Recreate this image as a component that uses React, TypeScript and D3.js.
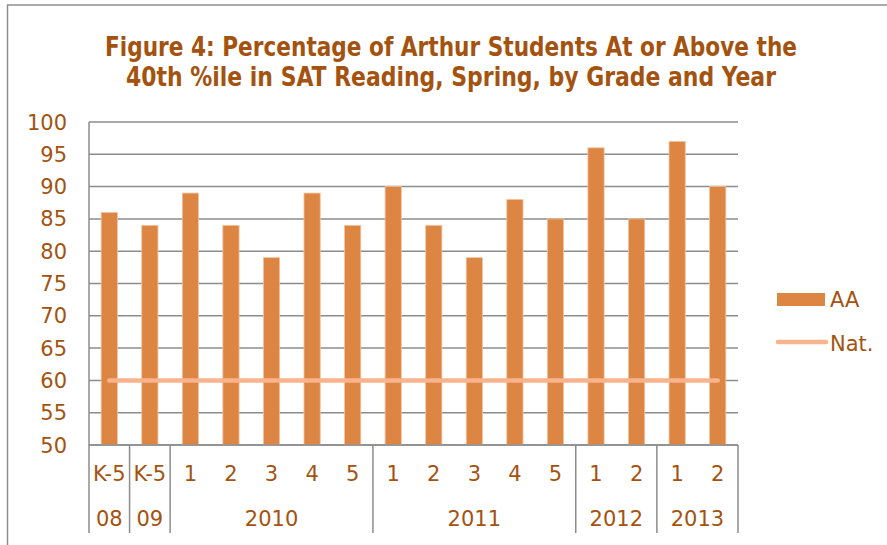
import React from "react";
import * as d3 from "d3";

// chart data
const grades = ["K-5", "K-5", "1", "2", "3", "4", "5", "1", "2", "3", "4", "5", "1", "2", "1", "2"];
const years = ["08", "09", "2010", "2010", "2010", "2010", "2010", "2011", "2011", "2011", "2011", "2011", "2012", "2012", "2013", "2013"];
const aaValues = [86, 84, 89, 84, 79, 89, 84, 90, 84, 79, 88, 85, 96, 85, 97, 90];
const natValues = [60, 60, 60, 60, 60, 60, 60, 60, 60, 60, 60, 60, 60, 60, 60, 60];
const yTicks = [50, 55, 60, 65, 70, 75, 80, 85, 90, 95, 100];

const titleLines = [
  "Figure 4: Percentage of Arthur Students At or Above the",
  "40th %ile in SAT Reading, Spring, by Grade and Year",
];

const textColor = "#A3530F";
const barColor = "#DD8542";
const natColor = "#F9B38D";
const gridColor = "#8C8C8C";
const font = "'DejaVu Sans', sans-serif";
const fs = 21;

const App = () => {
  const width = 887;
  const height = 545;
  const plot = { left: 89, right: 738, top: 122, bottom: 445 };

  const idx = d3.range(grades.length).map(String);
  const x = d3.scaleBand().domain(idx).range([plot.left, plot.right]).paddingInner(0).paddingOuter(0);
  const y = d3.scaleLinear().domain([50, 100]).range([plot.bottom, plot.top]);
  const bw = x.bandwidth() * 0.4;

  const natLine = d3
    .line<number>()
    .x((_, i) => (x(String(i)) as number) + x.bandwidth() / 2)
    .y((d) => y(d));

  // group the years into spans
  const groups: { year: string; start: number; end: number }[] = [];
  years.forEach((yr, i) => {
    const last = groups[groups.length - 1];
    if (last && last.year === yr) last.end = i;
    else groups.push({ year: yr, start: i, end: i });
  });

  return (
    <svg width={width} height={height} style={{ position: "absolute", left: 0, top: 0 }}>
      <rect x={0} y={0} width={width} height={height} fill="#fff" />
      {/* outer chart border */}
      <rect x={7.5} y={5} width={width + 10} height={height + 10} fill="none" stroke="#8f8f8f" strokeWidth={1.5} />

      {titleLines.map((t, i) => (
        <text
          key={i}
          x={451}
          y={i === 0 ? 56 : 86}
          textAnchor="middle"
          fontFamily="'Liberation Sans Narrow', 'DejaVu Sans Condensed', sans-serif"
          fontWeight="bold"
          fontSize={27}
          fill={textColor}
          textLength={i === 0 ? 692 : 650}
          lengthAdjust="spacingAndGlyphs"
        >
          {t}
        </text>
      ))}

      {/* gridlines */}
      {yTicks.map((t) => (
        <line key={t} x1={plot.left} x2={plot.right} y1={y(t)} y2={y(t)} stroke={gridColor} strokeWidth={1.5} />
      ))}
      {yTicks.map((t) => (
        <text
          key={"l" + t}
          x={67}
          y={y(t)}
          dy="0.36em"
          textAnchor="end"
          fontFamily={font}
          fontSize={fs}
          fill={textColor}
        >
          {t}
        </text>
      ))}

      {/* bars */}
      {aaValues.map((v, i) => (
        <rect
          key={i}
          x={(x(String(i)) as number) + (x.bandwidth() - bw) / 2}
          y={y(v)}
          width={bw}
          height={plot.bottom - y(v)}
          fill={barColor}
          stroke="#F2C4A0"
          strokeWidth={0.8}
        />
      ))}

      <path d={natLine(natValues) || ""} fill="none" stroke={natColor} strokeWidth={4.5} strokeLinecap="round" />

      {/* axes */}
      <line x1={plot.left} x2={plot.left} y1={plot.top} y2={533} stroke={gridColor} strokeWidth={1.5} />
      <line x1={plot.left} x2={plot.right} y1={plot.bottom} y2={plot.bottom} stroke={gridColor} strokeWidth={1.5} />
      {groups.map((g) => {
        const xe = (x(String(g.end)) as number) + x.bandwidth();
        return <line key={"s" + g.year} x1={xe} x2={xe} y1={plot.bottom} y2={533} stroke={gridColor} strokeWidth={1.5} />;
      })}

      {grades.map((g, i) => (
        <text
          key={"g" + i}
          x={(x(String(i)) as number) + x.bandwidth() / 2}
          y={473}
          dy="0.36em"
          textAnchor="middle"
          fontFamily={font}
          fontSize={fs}
          fill={textColor}
        >
          {g}
        </text>
      ))}
      {groups.map((g) => {
        const xs = x(String(g.start)) as number;
        const xe = (x(String(g.end)) as number) + x.bandwidth();
        return (
          <text
            key={"y" + g.year}
            x={(xs + xe) / 2}
            y={518}
            dy="0.36em"
            textAnchor="middle"
            fontFamily={font}
            fontSize={fs}
            fill={textColor}
          >
            {g.year}
          </text>
        );
      })}

      {/* legend */}
      <rect x={777} y={293} width={48} height={13} fill={barColor} />
      <text x={830} y={299} dy="0.36em" fontFamily={font} fontSize={fs} fill={textColor}>
        AA
      </text>
      <line x1={778} x2={826} y1={342} y2={342} stroke={natColor} strokeWidth={4.5} strokeLinecap="round" />
      <text x={830} y={343} dy="0.36em" fontFamily={font} fontSize={fs} fill={textColor}>
        Nat.
      </text>
    </svg>
  );
};

export default App;
